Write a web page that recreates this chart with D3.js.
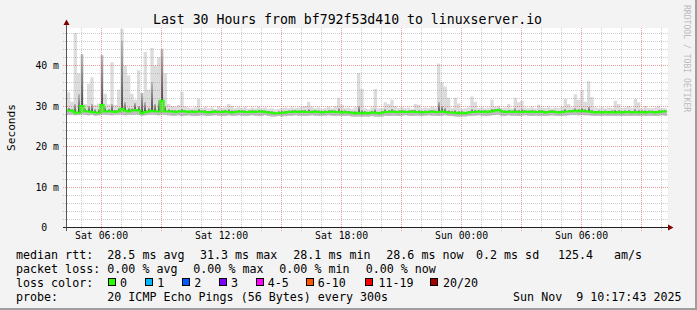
<!DOCTYPE html>
<html>
<head>
<meta charset="utf-8">
<script src="https://cdn.jsdelivr.net/npm/d3@7"></script>
<style>
  html, body { margin: 0; padding: 0; background: #f3f3f3; }
  svg { display: block; font-family: "DejaVu Sans Mono", monospace; }
</style>
</head>
<body>
<div id="chart"></div>
<script>
"use strict"

// smokeping style graph: 30 hours, one sample every 10 minutes (180 slots)
const titleText = "Last 30 Hours from bf792f53d410 to linuxserver.io";
const graphEnd = new Date(Date.UTC(2025, 10, 9, 10, 17, 43));
const slotMinutes = 10;

// median rtt, ms
const medianRtt = [
	28.9, 28.8, 28.4, 28.3, 30.0, 28.7, 28.6, 28.5, 28.4, 28.3,
	30.2, 28.6, 28.7, 28.6, 28.5, 28.7, 29.3, 28.8, 28.6, 28.9,
	29.0, 28.9, 28.2, 28.5, 28.6, 28.8, 28.7, 28.6, 31.3, 28.7,
	28.6, 28.6, 28.5, 28.6, 28.7, 28.6, 28.5, 28.6, 28.5, 28.6,
	28.6, 28.5, 28.4, 28.5, 28.6, 28.5, 28.5, 28.6, 28.5, 28.4,
	28.5, 28.6, 28.6, 28.5, 28.5, 28.6, 28.5, 28.6, 28.6, 28.5,
	28.4, 28.3, 28.2, 28.2, 28.3, 28.4, 28.5, 28.5, 28.6, 28.5,
	28.6, 28.5, 28.5, 28.5, 28.6, 28.5, 28.4, 28.5, 28.5, 28.6,
	28.5, 28.5, 28.4, 28.5, 28.4, 28.3, 28.2, 28.3, 28.1, 28.3,
	28.2, 28.4, 28.3, 28.2, 28.3, 28.5, 28.5, 28.6, 28.5, 28.5,
	28.6, 28.5, 28.5, 28.6, 28.5, 28.5, 28.4, 28.5, 28.5, 28.6,
	28.5, 28.5, 28.6, 28.5, 28.4, 28.4, 28.3, 28.2, 28.3, 28.2,
	28.4, 28.5, 28.5, 28.6, 28.5, 28.6, 28.5, 28.7, 28.9, 29.0,
	28.6, 28.5, 28.6, 28.5, 28.6, 28.5, 28.5, 28.6, 28.5, 28.6,
	28.5, 28.5, 28.6, 28.4, 28.5, 28.6, 28.5, 28.4, 28.5, 28.6,
	28.6, 28.7, 28.8, 28.7, 28.8, 28.7, 28.6, 28.5, 28.4, 28.5,
	28.4, 28.5, 28.4, 28.5, 28.4, 28.5, 28.4, 28.5, 28.5, 28.4,
	28.5, 28.4, 28.5, 28.4, 28.5, 28.5, 28.4, 28.5, 28.6, 28.6
];

// lowest ping of the slot, ms
const smokeLow = [
	27.8, 27.9, 27.7, 27.8, 27.9, 27.8, 27.7, 27.8, 27.6, 27.7,
	27.9, 27.8, 27.8, 27.7, 27.8, 27.9, 27.8, 27.7, 27.8, 27.8,
	27.9, 27.8, 27.6, 27.7, 27.8, 27.9, 27.8, 27.7, 27.9, 27.8,
	27.7, 27.6, 27.6, 27.7, 27.5, 27.6, 27.7, 27.6, 27.5, 27.6,
	27.7, 27.6, 27.5, 27.6, 27.7, 27.6, 27.6, 27.5, 27.7, 27.6,
	27.6, 27.7, 27.6, 27.5, 27.6, 27.7, 27.6, 27.5, 27.6, 27.7,
	27.5, 27.4, 27.4, 27.5, 27.4, 27.5, 27.6, 27.6, 27.7, 27.6,
	27.6, 27.5, 27.6, 27.7, 27.6, 27.5, 27.6, 27.6, 27.7, 27.6,
	27.5, 27.6, 27.6, 27.5, 27.6, 27.4, 27.3, 27.4, 27.3, 27.4,
	27.3, 27.5, 27.4, 27.3, 27.4, 27.6, 27.5, 27.6, 27.6, 27.5,
	27.6, 27.7, 27.6, 27.5, 27.6, 27.6, 27.5, 27.6, 27.7, 27.6,
	27.6, 27.5, 27.6, 27.7, 27.5, 27.5, 27.4, 27.3, 27.4, 27.4,
	27.5, 27.6, 27.6, 27.7, 27.6, 27.5, 27.6, 27.7, 27.8, 27.8,
	27.6, 27.5, 27.7, 27.6, 27.6, 27.5, 27.6, 27.7, 27.6, 27.5,
	27.6, 27.5, 27.6, 27.5, 27.6, 27.7, 27.6, 27.5, 27.6, 27.6,
	27.7, 27.8, 27.8, 27.7, 27.8, 27.7, 27.7, 27.6, 27.5, 27.6,
	27.5, 27.6, 27.5, 27.6, 27.5, 27.6, 27.5, 27.5, 27.6, 27.5,
	27.6, 27.5, 27.6, 27.5, 27.6, 27.6, 27.5, 27.6, 27.7, 27.6
];

// top of the dense (dark) smoke, ms
const smokeDark = [
	29.6, 29.3, 30.5, 33.0, 42.7, 29.4, 30.0, 30.5, 29.2, 29.3,
	42.5, 29.8, 29.2, 30.5, 29.1, 29.5, 46.0, 31.0, 29.6, 29.4,
	30.8, 30.0, 33.2, 31.0, 29.6, 36.0, 30.5, 31.5, 44.0, 30.0,
	29.2, 29.1, 29.0, 29.1, 29.3, 29.0, 28.9, 29.0, 28.9, 29.3,
	28.9, 29.0, 28.8, 28.9, 29.0, 28.9, 28.9, 29.0, 29.2, 28.9,
	28.9, 29.0, 29.0, 28.9, 28.9, 29.0, 28.9, 29.1, 29.0, 28.9,
	28.8, 28.7, 28.6, 28.7, 28.8, 28.8, 28.9, 29.0, 29.0, 28.9,
	29.0, 29.1, 29.3, 28.9, 29.0, 28.9, 28.8, 28.9, 29.0, 29.0,
	28.9, 29.4, 28.9, 28.9, 28.8, 28.7, 28.7, 30.0, 29.0, 28.7,
	28.6, 28.8, 29.2, 28.6, 28.7, 29.2, 29.0, 29.3, 28.9, 28.9,
	29.0, 28.9, 28.9, 29.0, 29.1, 29.0, 28.8, 28.9, 28.9, 29.0,
	28.9, 31.0, 30.0, 29.5, 28.9, 28.8, 29.0, 28.7, 28.7, 28.6,
	28.8, 29.3, 29.1, 29.0, 28.9, 29.0, 28.9, 29.3, 29.3, 29.4,
	29.0, 28.9, 29.1, 28.9, 29.4, 29.1, 29.2, 29.0, 28.9, 29.0,
	28.9, 29.1, 29.0, 28.8, 28.9, 29.0, 28.9, 28.8, 28.9, 29.3,
	29.1, 29.1, 29.4, 29.2, 29.5, 29.2, 29.8, 29.1, 28.8, 28.9,
	28.8, 28.9, 28.8, 28.9, 29.1, 29.0, 28.8, 28.9, 29.0, 28.8,
	29.2, 29.0, 28.9, 28.9, 28.9, 28.9, 28.8, 29.0, 29.0, 29.0
];

// highest ping of the slot, ms
const smokeHigh = [
	33.4, 31.0, 48.0, 38.0, 42.7, 30.5, 35.5, 37.0, 30.2, 30.6,
	42.5, 33.0, 30.4, 40.8, 30.2, 34.0, 49.0, 40.0, 37.5, 33.0,
	31.5, 38.8, 33.2, 43.3, 34.0, 44.3, 40.0, 42.0, 44.0, 38.0,
	30.5, 30.0, 29.8, 30.2, 33.5, 29.9, 29.6, 29.4, 29.7, 31.8,
	29.5, 29.8, 29.4, 29.6, 29.3, 29.9, 29.5, 29.6, 30.5, 30.0,
	29.4, 29.7, 29.5, 29.8, 29.3, 29.6, 29.4, 29.8, 29.5, 29.6,
	29.3, 29.4, 29.2, 29.3, 29.5, 29.6, 29.4, 29.7, 29.5, 29.6,
	29.8, 30.0, 31.0, 29.8, 29.4, 29.6, 29.3, 29.5, 29.8, 29.4,
	29.9, 32.0, 30.3, 29.5, 29.6, 29.3, 29.7, 38.1, 34.2, 29.4,
	29.2, 29.6, 34.2, 29.4, 29.5, 30.9, 30.5, 31.5, 30.0, 29.5,
	29.7, 29.4, 29.6, 29.3, 30.5, 30.3, 29.4, 29.6, 29.5, 29.8,
	29.6, 40.4, 35.9, 34.8, 32.0, 29.5, 32.0, 30.6, 29.3, 29.4,
	29.6, 32.3, 31.0, 29.5, 29.7, 29.4, 29.6, 31.5, 29.8, 30.0,
	29.5, 29.6, 30.5, 29.4, 32.0, 30.9, 31.3, 29.6, 29.5, 29.7,
	29.4, 30.3, 29.6, 29.5, 29.7, 29.4, 29.6, 29.5, 29.8, 31.8,
	30.5, 29.6, 32.9, 31.5, 34.0, 31.0, 36.1, 32.2, 29.6, 29.5,
	29.7, 29.4, 29.6, 29.5, 31.3, 30.5, 29.4, 29.6, 30.0, 29.5,
	31.8, 30.9, 29.4, 30.0, 29.5, 29.4, 29.6, 30.0, 29.5, 29.4
];

const yLabelTicks = [0, 10, 20, 30, 40];

// legend figures
const rttStats = [28.5, 31.3, 28.1, 28.6];
const rttStatNames = ["avg", "max", "min", "now"];
const rttSd = 0.2;
const rttAmS = 125.4;
const lossStats = [0, 0, 0, 0];
const lossLabels = ["0", "1", "2", "3", "4-5", "6-10", "11-19", "20/20"];
const lossColors = ["#26ff00", "#00b8ff", "#0059ff", "#7e00ff", "#ff00ff", "#ff5500", "#ff0000", "#a00000"];
const probeText = "20 ICMP Echo Pings (56 Bytes) every 300s";
const stampText = "Sun Nov  9 10:17:43 2025";

let SmokeGraph = function(targetID) {
	let self = {
		totalWidth: 697,
		totalHeight: 310,
		plot: { left: 67, right: 667, top: 27.5, bottom: 227.5 },
		yMax: 49.35,
		svg: null,
		x: d3.scaleUtc(),
		y: d3.scaleLinear(),
		rows: [],
	};

	function draw() {
		let start = new Date(graphEnd.getTime() - medianRtt.length * slotMinutes * 60000);
		self.rows = medianRtt.map((m, i) => ({
			t: new Date(start.getTime() + i * slotMinutes * 60000),
			med: m, lo: smokeLow[i], dark: smokeDark[i], hi: smokeHigh[i]
		}));
		// closing point so the last step reaches the right edge
		let last = self.rows[self.rows.length - 1];
		self.steps = self.rows.concat([Object.assign({}, last, { t: graphEnd })]);

		self.x.domain([start, graphEnd]).range([self.plot.left, self.plot.right]);
		self.y.domain([0, self.yMax]).range([self.plot.bottom, self.plot.top]);

		self.svg = d3.select(targetID).append("svg")
			.attr("width", self.totalWidth)
			.attr("height", self.totalHeight);

		let defs = self.svg.append("defs");
		let grad = defs.append("linearGradient").attr("id", "smokeShade")
			.attr("x1", 0).attr("y1", 1).attr("x2", 0).attr("y2", 0);
		grad.append("stop").attr("offset", 0).attr("stop-color", "#4a4a4a");
		grad.append("stop").attr("offset", 1).attr("stop-color", "#bdbdbd");

		// background and frame
		self.svg.append("rect").attr("width", self.totalWidth).attr("height", self.totalHeight).attr("fill", "#f3f3f3");
		self.svg.append("rect").attr("x", self.totalWidth - 2).attr("y", 0).attr("width", 2).attr("height", self.totalHeight).attr("fill", "#9e9e9e");
		self.svg.append("rect").attr("x", 0).attr("y", self.totalHeight - 2).attr("width", self.totalWidth).attr("height", 2).attr("fill", "#9e9e9e");
		self.svg.append("rect")
			.attr("x", self.plot.left).attr("y", 28)
			.attr("width", self.plot.right - self.plot.left + 1).attr("height", 200)
			.attr("fill", "#ffffff");

		self.svg.append("text")
			.attr("x", 347.5).attr("y", 23.5)
			.attr("text-anchor", "middle")
			.attr("font-size", "13.2px")
			.text(titleText);

		self.svg.append("text")
			.attr("transform", "translate(684,5) rotate(90)")
			.attr("font-size", "8.1px")
			.attr("fill", "#bcbcbc")
			.text("RRDTOOL / TOBI OETIKER");

		drawSmoke();
		drawGrid();
		drawMedian();
		drawAxes();
		drawLegend();
	}

	function drawSmoke() {
		let g = self.svg.append("g").attr("class", "smoke");

		g.append("path").datum(self.steps)
			.attr("fill", "#dcdcdc")
			.attr("d", d3.area().curve(d3.curveStepAfter)
				.x(d => self.x(d.t)).y0(d => self.y(d.lo)).y1(d => self.y(d.hi)));

		g.append("path").datum(self.steps)
			.attr("fill", "#bdbdbd")
			.attr("d", d3.area().curve(d3.curveStepAfter)
				.x(d => self.x(d.t)).y0(d => self.y(d.lo)).y1(d => self.y(d.med)));

		// dense smoke sits in the middle of the slot, a bit narrower than it
		let slot = slotMinutes * 60000;
		g.selectAll("rect.dense")
			.data(self.rows)
			.enter().append("rect")
				.attr("class", "dense")
				.attr("shape-rendering", "crispEdges")
				.attr("x", d => self.x(d.t) + 0.6)
				.attr("width", d => self.x(new Date(d.t.getTime() + slot)) - self.x(d.t) - 1.2)
				.attr("y", d => self.y(d.dark))
				.attr("height", d => self.y(d.med) - self.y(d.dark))
				.attr("fill", "url(#smokeShade)");
	}

	function drawGrid() {
		let g = self.svg.append("g").attr("class", "grid")
			.attr("stroke-width", 1)
			.attr("stroke-dasharray", "1,1")
			.attr("shape-rendering", "crispEdges");
		let [t0, t1] = self.x.domain();
		let hours = d3.utcHour.range(t0, t1);

		g.selectAll("line.vgrid")
			.data(hours)
			.enter().append("line")
				.attr("class", "vgrid")
				.attr("x1", d => Math.round(self.x(d)) + 0.5)
				.attr("x2", d => Math.round(self.x(d)) + 0.5)
				.attr("y1", 28)
				.attr("y2", 231)
				.attr("stroke", d => d.getUTCHours() % 3 == 0 ? "rgba(222,80,80,0.55)" : "rgba(143,143,143,0.45)");

		let levels = d3.range(2, self.yMax, 2);
		g.selectAll("line.hgrid")
			.data(levels)
			.enter().append("line")
				.attr("class", "hgrid")
				.attr("x1", 63)
				.attr("x2", self.plot.right + 1)
				.attr("y1", d => Math.round(self.y(d)) + 0.5)
				.attr("y2", d => Math.round(self.y(d)) + 0.5)
				.attr("stroke", d => d % 10 == 0 ? "rgba(222,80,80,0.55)" : "rgba(143,143,143,0.45)");
	}

	function drawMedian() {
		self.svg.append("path").datum(self.steps)
			.attr("fill", "none")
			.attr("stroke", lossColors[0])
			.attr("stroke-width", 2)
			.attr("d", d3.line().curve(d3.curveStepAfter)
				.x(d => self.x(d.t)).y(d => self.y(d.med)));
	}

	function drawAxes() {
		let [t0, t1] = self.x.domain();

		let xAxis = self.svg.append("g")
			.attr("transform", `translate(0,${self.plot.bottom})`)
			.call(d3.axisBottom(self.x)
				.tickValues(d3.utcHour.every(6).range(t0, t1))
				.tickFormat(d3.utcFormat("%a %H:%M"))
				.tickSize(0).tickPadding(5));
		xAxis.select(".domain").remove();
		xAxis.attr("font-family", null).attr("font-size", "9.8px");

		let yAxis = self.svg.append("g")
			.attr("transform", `translate(${self.plot.left},0)`)
			.call(d3.axisLeft(self.y)
				.tickValues(yLabelTicks)
				.tickFormat(d => d == 0 ? "0\u00a0\u00a0" : d + " m")
				.tickSize(0).tickPadding(8));
		yAxis.select(".domain").remove();
		yAxis.attr("font-family", null).attr("font-size", "9.8px");

		self.svg.append("text")
			.attr("transform", `translate(15,${(self.plot.top + self.plot.bottom) / 2}) rotate(-90)`)
			.attr("text-anchor", "middle")
			.attr("font-size", "11.2px")
			.text("Seconds");

		// axis lines with arrow heads
		self.svg.append("line")
			.attr("x1", 63).attr("x2", 669)
			.attr("y1", self.plot.bottom).attr("y2", self.plot.bottom)
			.attr("stroke", "#222").attr("shape-rendering", "crispEdges");
		self.svg.append("line")
			.attr("x1", 66.5).attr("x2", 66.5)
			.attr("y1", 231).attr("y2", 24)
			.attr("stroke", "#555").attr("shape-rendering", "crispEdges");
		self.svg.append("path")
			.attr("d", "M668,224.5 L673.5,227.5 L668,230.5 Z")
			.attr("fill", "#7f0000");
		self.svg.append("path")
			.attr("d", "M63.5,25 L66.5,19.5 L69.5,25 Z")
			.attr("fill", "#7f0000");
	}

	function drawLegend() {
		let g = self.svg.append("g").attr("class", "legend").attr("font-size", "11.66px");
		let base = [258.5, 272.5, 286.5, 300.5];
		let put = (x, y, s, anchor) => g.append("text")
			.attr("x", x).attr("y", y)
			.attr("text-anchor", anchor || "start")
			.attr("xml:space", "preserve")
			.text(s);

		put(16, base[0], "median rtt:");
		let rttX = [107.3, 200, 293.3, 386.3];
		rttStats.forEach((v, i) => put(rttX[i], base[0], d3.format(".1f")(v) + " ms " + rttStatNames[i]));
		put(476, base[0], d3.format(".1f")(rttSd) + " ms sd");
		put(558, base[0], d3.format(".1f")(rttAmS));
		put(614, base[0], "am/s");

		put(16, base[1], "packet loss:");
		let lossX = [107.3, 193.3, 279.3, 365.7];
		lossStats.forEach((v, i) => put(lossX[i], base[1], d3.format(".2f")(v) + " % " + rttStatNames[i]));

		put(16, base[2], "loss color:");
		let boxX = [108.5, 145.5, 182.5, 219.5, 256.5, 306.5, 365.5, 430.5];
		let labelX = [120, 157.3, 194.3, 231, 267.7, 317.7, 378.5, 443];
		lossLabels.forEach((lab, i) => {
			g.append("rect")
				.attr("x", boxX[i]).attr("y", 278.5)
				.attr("width", 7).attr("height", 7)
				.attr("fill", lossColors[i])
				.attr("stroke", "#000");
			put(labelX[i], base[2], lab);
		});

		put(16, base[3], "probe:");
		put(107.3, base[3], probeText);
		put(681.5, base[3], stampText, "end");
	}

	return {
		draw,
	};
}

SmokeGraph("#chart").draw();
</script>
</body>
</html>
